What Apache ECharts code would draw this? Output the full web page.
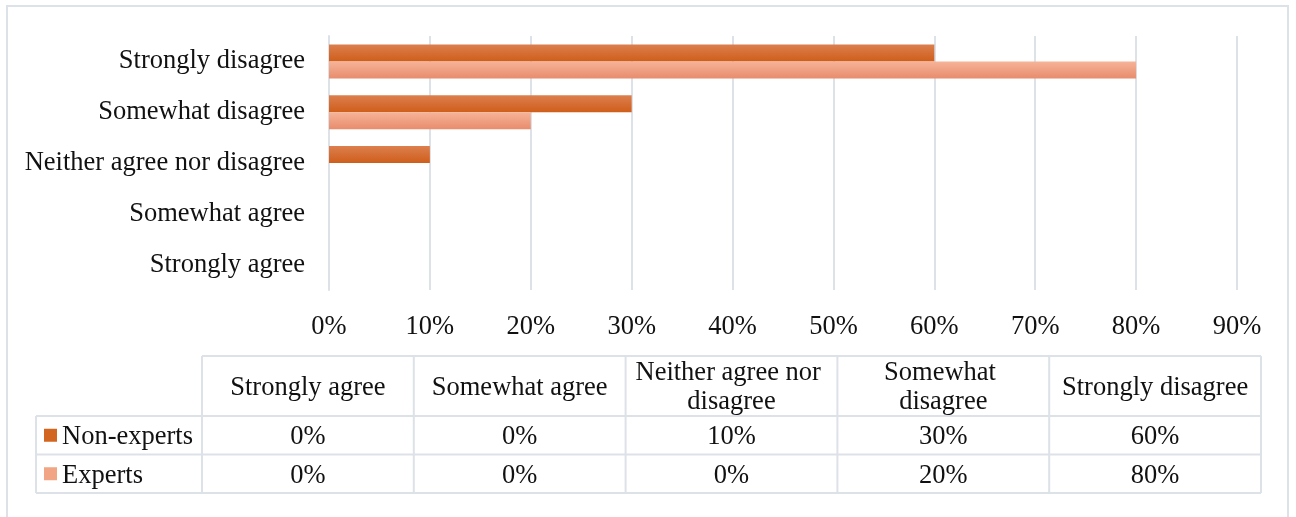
<!DOCTYPE html>
<html>
<head>
<meta charset="utf-8">
<script src="https://cdn.jsdelivr.net/npm/echarts@6/dist/echarts.min.js"></script>
<style>
html,body{margin:0;padding:0;background:#fff;}
#chart{width:1296px;height:517px;}
</style>
</head>
<body>
<div id="chart"></div>
<script>
// ---- data ----
const categories = ['Strongly agree', 'Somewhat agree', 'Neither agree nor disagree', 'Somewhat disagree', 'Strongly disagree'];
const seriesNames = ['Non-experts', 'Experts'];
const nonExperts = [0, 0, 10, 30, 60];
const experts = [0, 0, 0, 20, 80];
const xTicks = [0, 10, 20, 30, 40, 50, 60, 70, 80, 90];

// ---- style ----
const FONT = 'Liberation Serif, "Times New Roman", serif';
const FS = 26.5;
const LINE = '#dde1e8';
const colNon = new echarts.graphic.LinearGradient(0, 0, 0, 1, [
  {offset: 0, color: '#dc7f4e'}, {offset: 1, color: '#cf5e1b'}]);
const colExp = new echarts.graphic.LinearGradient(0, 0, 0, 1, [
  {offset: 0, color: '#f6b498'}, {offset: 1, color: '#e88c6d'}]);
const keyColors = ['#d2651f', '#f1a585'];

const chart = echarts.init(document.getElementById('chart'), null, {renderer: 'canvas'});

// ---- table (graphic) ----
const tbl = {left: 202, colW: 211.8, top: 356, headH: 60, rowH: 38.5, labelLeft: 36};
const rowsData = [nonExperts, experts];
const g = [];
// outer frame
g.push({type: 'rect', shape: {x: 7, y: 6, width: 1281, height: 520}, style: {fill: 'none', stroke: LINE, lineWidth: 2}, z: 0});
const tRight = tbl.left + tbl.colW * categories.length;
const rowTop = tbl.top + tbl.headH;
const tBottom = rowTop + tbl.rowH * rowsData.length;
const lineStyle = {stroke: LINE, lineWidth: 2};
// horizontal lines
g.push({type: 'line', shape: {x1: tbl.left, y1: tbl.top, x2: tRight, y2: tbl.top}, style: lineStyle});
for (let r = 0; r <= rowsData.length; r++) {
  const y = rowTop + r * tbl.rowH;
  g.push({type: 'line', shape: {x1: tbl.labelLeft, y1: y, x2: tRight, y2: y}, style: lineStyle});
}
// vertical lines
g.push({type: 'line', shape: {x1: tbl.labelLeft, y1: rowTop, x2: tbl.labelLeft, y2: tBottom}, style: lineStyle});
for (let c = 0; c <= categories.length; c++) {
  const x = tbl.left + c * tbl.colW;
  g.push({type: 'line', shape: {x1: x, y1: tbl.top, x2: x, y2: tBottom}, style: lineStyle});
}
// header texts
categories.forEach((cat, c) => {
  g.push({type: 'text', x: tbl.left + (c + 0.5) * tbl.colW, y: tbl.top + tbl.headH / 2 + 2,
    style: {text: cat, fill: '#111', font: FS + 'px ' + FONT, align: 'center', verticalAlign: 'middle',
      width: 196, overflow: 'break', lineHeight: 29}});
});
// rows
rowsData.forEach((vals, r) => {
  const cy = rowTop + (r + 0.5) * tbl.rowH;
  g.push({type: 'rect', shape: {x: 44, y: cy - 6.5, width: 13, height: 13}, style: {fill: keyColors[r]}});
  g.push({type: 'text', x: 62, y: cy + 2, style: {text: seriesNames[r], fill: '#111', font: FS + 'px ' + FONT, align: 'left', verticalAlign: 'middle'}});
  vals.forEach((v, c) => {
    g.push({type: 'text', x: tbl.left + (c + 0.5) * tbl.colW, y: cy + 2,
      style: {text: v + '%', fill: '#111', font: FS + 'px ' + FONT, align: 'center', verticalAlign: 'middle'}});
  });
});

chart.setOption({
  animation: false,
  backgroundColor: '#fff',
  grid: {left: 329, right: 59, top: 36, height: 254, containLabel: false},
  xAxis: {
    type: 'value', min: xTicks[0], max: xTicks[xTicks.length - 1], interval: 10,
    axisLine: {show: false}, axisTick: {show: false},
    axisLabel: {formatter: '{value}%', fontFamily: FONT, fontSize: FS, color: '#111', margin: 24},
    splitLine: {show: true, lineStyle: {color: LINE, width: 2}}
  },
  yAxis: {
    type: 'category', data: categories,
    axisLine: {show: true, lineStyle: {color: LINE, width: 2}}, axisTick: {show: false},
    axisLabel: {fontFamily: FONT, fontSize: FS, color: '#111', margin: 24, padding: [4, 0, 0, 0]}
  },
  series: [
    {name: seriesNames[0], type: 'bar', data: nonExperts, barGap: '0%', barCategoryGap: '33%', itemStyle: {color: colNon}},
    {name: seriesNames[1], type: 'bar', data: experts, barGap: '0%', barCategoryGap: '33%', itemStyle: {color: colExp}}
  ],
  graphic: g
});
</script>
</body>
</html>
